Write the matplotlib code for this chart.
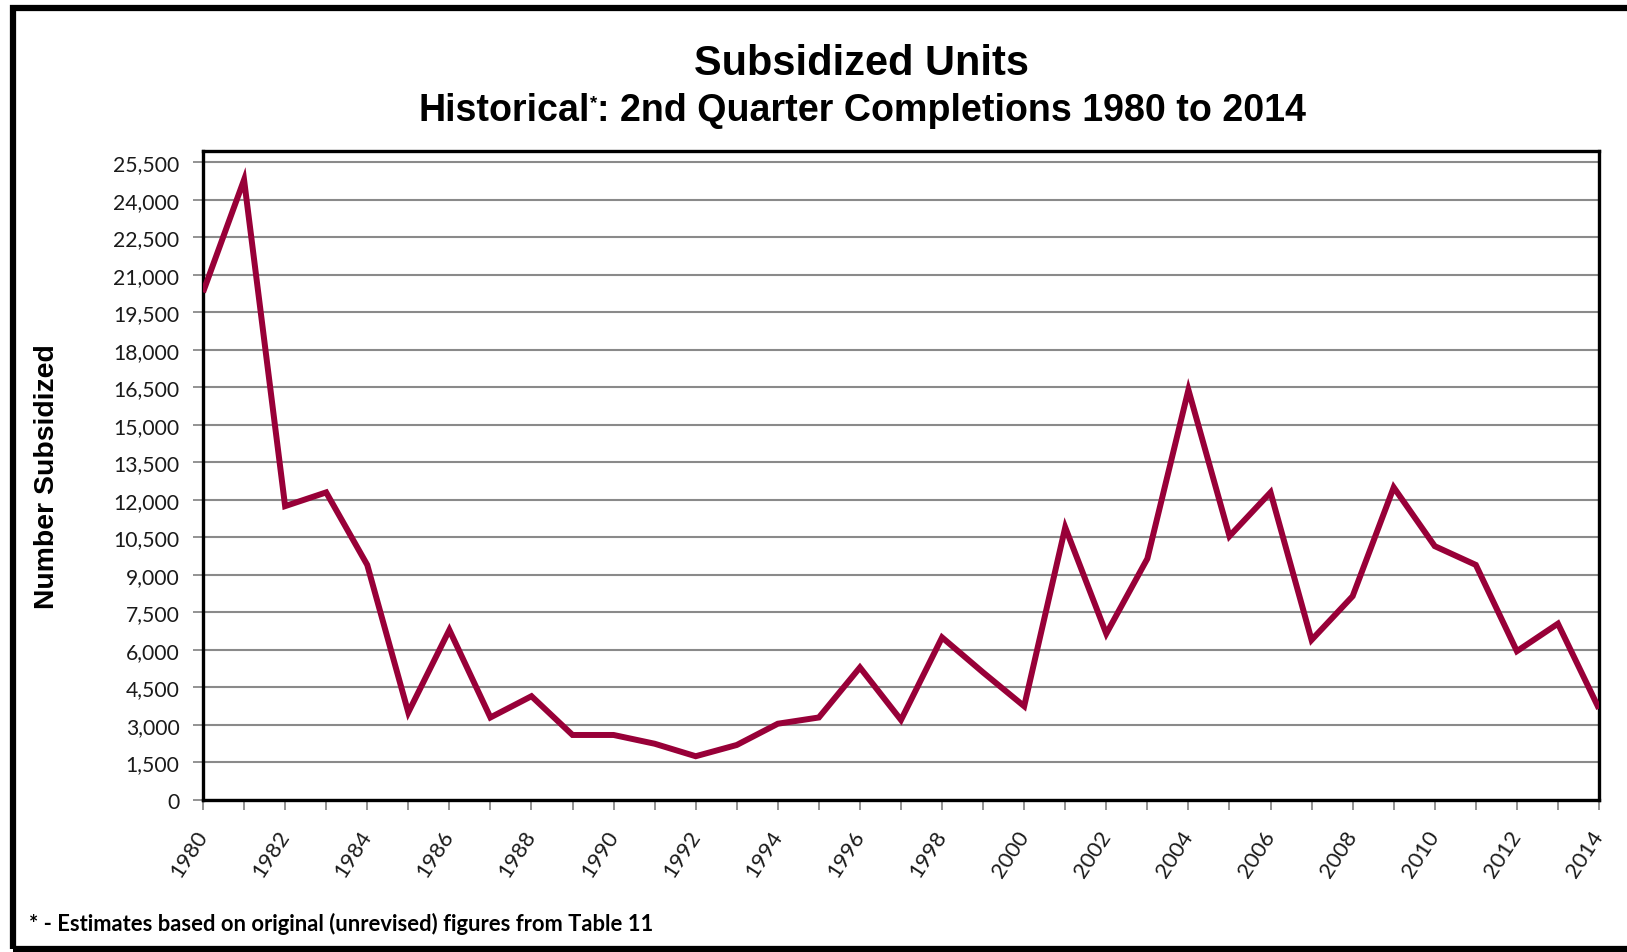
import matplotlib
matplotlib.use("Agg")
import matplotlib.pyplot as plt
from matplotlib.ticker import FuncFormatter
from matplotlib.patches import Rectangle

# ---------------- data ----------------
years = list(range(1980, 2015))
units = [20300, 24800, 11750, 12300, 9400, 3500, 6800, 3300, 4150, 2600,
         2600, 2250, 1750, 2200, 3050, 3300, 5300, 3200, 6500, 5100,
         3750, 10900, 6650, 9650, 16400, 10550, 12300, 6400, 8150, 12500,
         10150, 9400, 5950, 7050, 3650]
y_ticks = list(range(0, 25501, 1500))
x_label_years = list(range(1980, 2015, 2))
x_tick_labels = [str(y) for y in x_label_years]

title = "Subsidized Units"
subtitle_a = "Historical"
subtitle_star = "*"
subtitle_b = ": 2nd Quarter Completions 1980 to 2014"
ylabel = "Number Subsidized"
footnote = "* - Estimates based on original (unrevised) figures from Table 11"

# ---------------- figure ----------------
W, H = 1627, 953
fig = plt.figure(figsize=(W / 100, H / 100), dpi=100)
fig.patch.set_facecolor("white")

# outer frame (left, top, bottom visible; right beyond edge)
fig.patches.append(Rectangle((12.5 / W, 3.5 / H), (W + 40) / W, (H - 12) / H,
                             transform=fig.transFigure, fill=False,
                             edgecolor="black", lw=4.5, zorder=0))

L, R, T, B = 203, 1599, 152, 801
ax = fig.add_axes([L / W, 1 - B / H, (R - L) / W, (B - T) / H])
ax.plot(years, units, color="#980038", lw=4.3, solid_joinstyle="miter",
        solid_capstyle="butt", zorder=3)
ax.set_xlim(1980, 2014)
ax.set_ylim(0, 25950)
ax.set_yticks(y_ticks)
ax.yaxis.set_major_formatter(FuncFormatter(lambda v, p: f"{int(v):,}"))
ax.set_xticks(x_label_years)
ax.set_xticks(years, minor=True)
ax.set_xticklabels(x_tick_labels, rotation=57, ha="right", va="center",
                   rotation_mode="anchor")
ax.grid(axis="y", color="#8a8a8a", lw=1.5)
ax.set_axisbelow(True)
for s in ax.spines.values():
    s.set_linewidth(2.4)
    s.set_color("black")
ax.tick_params(axis="both", which="both", direction="out", length=7,
               width=1.3, color="#8a8a8a")
ax.tick_params(axis="y", labelsize=15.2, pad=10, labelcolor="#1a1a1a")
ax.tick_params(axis="x", labelsize=15.8, pad=16, labelcolor="#1a1a1a")
for lab in ax.get_xticklabels() + ax.get_yticklabels():
    lab.set_family("Lato")

fig.canvas.draw()
renderer = fig.canvas.get_renderer()


def fit(txt, target_w):
    w = txt.get_window_extent(renderer).width
    txt.set_fontsize(txt.get_fontsize() * target_w / w)


t1 = fig.text(862 / W, 1 - 75 / H, title, ha="center", va="baseline",
              fontsize=30, fontweight="bold", family="Liberation Sans")
fit(t1, 335)

# subtitle assembled from parts so the asterisk is a superscript
sub_fs = 27
pa = fig.text(0, 1 - 121 / H, subtitle_a, ha="left", va="baseline",
              fontsize=sub_fs, fontweight="bold", family="Liberation Sans")
ps = fig.text(0, 1 - 108 / H, subtitle_star, ha="left", va="baseline",
              fontsize=sub_fs * 0.5, fontweight="bold", family="Liberation Sans")
pb = fig.text(0, 1 - 121 / H, subtitle_b, ha="left", va="baseline",
              fontsize=sub_fs, fontweight="bold", family="Liberation Sans")
fig.canvas.draw()
wa = pa.get_window_extent(renderer).width
wsr = ps.get_window_extent(renderer).width
wb = pb.get_window_extent(renderer).width
total = wa + wsr + wb
target = 887
k = target / total
for p in (pa, ps, pb):
    p.set_fontsize(p.get_fontsize() * k)
wa, wsr, wb = wa * k, wsr * k, wb * k
x0 = 862 - target / 2
pa.set_x(x0 / W)
ps.set_x((x0 + wa) / W)
pb.set_x((x0 + wa + wsr) / W)

yl = fig.text(47 / W, 1 - 477 / H, ylabel, rotation=90, ha="center",
              va="center", fontsize=19, fontweight="bold",
              family="Liberation Sans")
fig.canvas.draw()
h = yl.get_window_extent(renderer).height
yl.set_fontsize(yl.get_fontsize() * 265 / h)

fn = fig.text(29 / W, 1 - 931 / H, footnote, ha="left", va="baseline",
              fontsize=15, fontweight="bold", family="Lato")
fit(fn, 626)

fig.savefig("out.png", dpi=100)
